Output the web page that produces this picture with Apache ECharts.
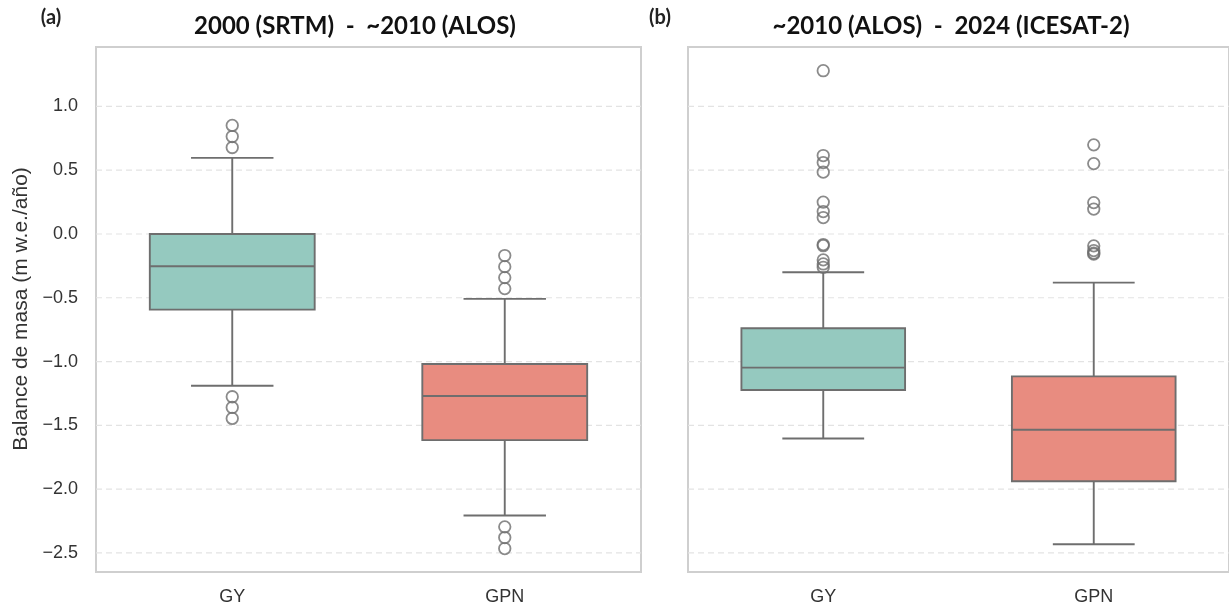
<!DOCTYPE html>
<html>
<head>
<meta charset="utf-8">
<script src="https://cdn.jsdelivr.net/npm/echarts@6/dist/echarts.min.js"></script>
<style>
  html, body { margin: 0; padding: 0; background: #ffffff; }
  #chart { width: 1229px; height: 609px; }
</style>
</head>
<body>
<div id="chart"></div>
<script>
// Glacier groups on the x axis
const categories = ['GY', 'GPN'];

// Box statistics per group: [lower whisker, Q1, median, Q3, upper whisker]
const boxesA = [
  [-1.190, -0.593, -0.253, 0.000, 0.597],
  [-2.207, -1.616, -1.270, -1.019, -0.509]
];
const boxesB = [
  [-1.603, -1.223, -1.048, -0.739, -0.300],
  [-2.432, -1.938, -1.535, -1.116, -0.381]
];

// Points beyond the whiskers
const outliersA = [
  [0.851, 0.764, 0.678, -1.276, -1.360, -1.446],
  [-0.169, -0.256, -0.342, -0.428, -2.296, -2.380, -2.466]
];
const outliersB = [
  [1.280, 0.615, 0.560, 0.485, 0.250, 0.176, 0.129, -0.083, -0.092, -0.203, -0.235, -0.261],
  [0.699, 0.552, 0.246, 0.195, -0.093, -0.130, -0.150, -0.158]
];

// Value axis labels and horizontal guide lines
const yTicks = [-2.5, -2.0, -1.5, -1.0, -0.5, 0.0, 0.5, 1.0];

const panelTitles = ['2000 (SRTM)  -  ~2010 (ALOS)', '~2010 (ALOS)  -  2024 (ICESAT-2)'];
const panelTags = ['(a)', '(b)'];
const yName = 'Balance de masa (m w.e./año)';

const boxColors = ['#95c9bf', '#e88c80'];
const lineColor = '#6e6e6e';
const Y_MIN = -2.65, Y_MAX = 1.466;

const fmtTick = v => Number(v).toFixed(1).replace('-', '\u2212');

// Dashed horizontal guides, drawn beneath the boxes
function guideSeries(idx) {
  return {
    type: 'custom',
    xAxisIndex: idx, yAxisIndex: idx,
    z: 1, silent: true,
    data: yTicks.map(v => [0, v]),
    encode: { x: 0, y: 1 },
    renderItem: function (params, api) {
      const cs = params.coordSys;
      const y = api.coord([0, api.value(1)])[1];
      return {
        type: 'line',
        shape: { x1: cs.x, y1: y, x2: cs.x + cs.width, y2: y },
        style: { stroke: '#e3e3e3', lineWidth: 1.2, lineDash: [6, 4] }
      };
    }
  };
}

function boxSeries(data, idx) {
  return {
    type: 'custom',
    xAxisIndex: idx, yAxisIndex: idx,
    z: 3,
    data: data.map((d, i) => [i].concat(d)),
    encode: { x: 0, y: [1, 2, 3, 4, 5] },
    renderItem: function (params, api) {
      const ci = api.value(0);
      const lo = api.coord([ci, api.value(1)]);
      const q1 = api.coord([ci, api.value(2)]);
      const md = api.coord([ci, api.value(3)]);
      const q3 = api.coord([ci, api.value(4)]);
      const hi = api.coord([ci, api.value(5)]);
      const band = api.size([1, 0])[0];
      const bw = band * 0.605;
      const cw = bw * 0.5;
      const x = lo[0];
      const ls = { stroke: lineColor, lineWidth: 1.9 };
      return {
        type: 'group',
        children: [
          { type: 'line', shape: { x1: x, y1: hi[1], x2: x, y2: q3[1] }, style: ls },
          { type: 'line', shape: { x1: x, y1: q1[1], x2: x, y2: lo[1] }, style: ls },
          { type: 'line', shape: { x1: x - cw / 2, y1: hi[1], x2: x + cw / 2, y2: hi[1] }, style: ls },
          { type: 'line', shape: { x1: x - cw / 2, y1: lo[1], x2: x + cw / 2, y2: lo[1] }, style: ls },
          { type: 'rect', shape: { x: x - bw / 2, y: q3[1], width: bw, height: q1[1] - q3[1] },
            style: { fill: boxColors[ci], stroke: lineColor, lineWidth: 1.9 } },
          { type: 'line', shape: { x1: x - bw / 2, y1: md[1], x2: x + bw / 2, y2: md[1] }, style: ls }
        ]
      };
    }
  };
}

function outlierSeries(data, idx) {
  const pts = [];
  data.forEach((arr, i) => arr.forEach(v => pts.push([i, v])));
  return {
    type: 'scatter',
    xAxisIndex: idx, yAxisIndex: idx,
    z: 4,
    symbol: 'circle',
    symbolSize: 11.5,
    itemStyle: { color: 'rgba(255,255,255,0)', borderColor: lineColor, borderWidth: 1.8 },
    data: pts
  };
}

const gridTop = 47, gridH = 525, gridW = 545;
const grids = [
  { left: 96, top: gridTop, width: gridW, height: gridH },
  { left: 688, top: gridTop, width: gridW, height: gridH }
].map(g => Object.assign(g, { show: true, borderColor: '#cfcfcf', borderWidth: 2, backgroundColor: '#ffffff' }));

const xAxes = [0, 1].map(i => ({
  type: 'category', gridIndex: i, data: categories,
  axisLine: { show: false }, axisTick: { show: false },
  axisLabel: { color: '#333333', fontSize: 18, fontFamily: 'Liberation Sans', margin: 16 },
  splitLine: { show: false }
}));

const yAxes = [0, 1].map(i => ({
  type: 'value', gridIndex: i, min: Y_MIN, max: Y_MAX,
  axisLine: { show: false },
  axisTick: { show: false, customValues: yTicks },
  axisLabel: {
    show: i === 0, customValues: yTicks, formatter: fmtTick,
    color: '#333333', fontSize: 18, fontFamily: 'Liberation Sans', margin: 18
  },
  splitLine: { show: false }
}));

const titleFont = 'bold 24px Lato';
const tagFont = 'bold 20px Lato';
const graphics = [
  { type: 'text', x: 355, y: 26, style: { text: panelTitles[0], font: titleFont, fill: '#111111', textAlign: 'center', textVerticalAlign: 'middle' } },
  { type: 'text', x: 951, y: 26, style: { text: panelTitles[1], font: titleFont, fill: '#111111', textAlign: 'center', textVerticalAlign: 'middle' } },
  { type: 'text', x: 51, y: 18, style: { text: panelTags[0], font: tagFont, fill: '#222222', textAlign: 'center', textVerticalAlign: 'middle' } },
  { type: 'text', x: 660, y: 18, style: { text: panelTags[1], font: tagFont, fill: '#222222', textAlign: 'center', textVerticalAlign: 'middle' } },
  { type: 'text', x: 21, y: 309, rotation: Math.PI / 2,
    style: { text: yName, font: '21px "Liberation Sans"', fill: '#333333', textAlign: 'center', textVerticalAlign: 'middle' } }
];

const chart = echarts.init(document.getElementById('chart'), null, { renderer: 'canvas' });
chart.setOption({
  animation: false,
  backgroundColor: '#ffffff',
  grid: grids,
  xAxis: xAxes,
  yAxis: yAxes,
  graphic: graphics,
  series: [
    guideSeries(0), guideSeries(1),
    boxSeries(boxesA, 0), boxSeries(boxesB, 1),
    outlierSeries(outliersA, 0), outlierSeries(outliersB, 1)
  ]
});
</script>
</body>
</html>
